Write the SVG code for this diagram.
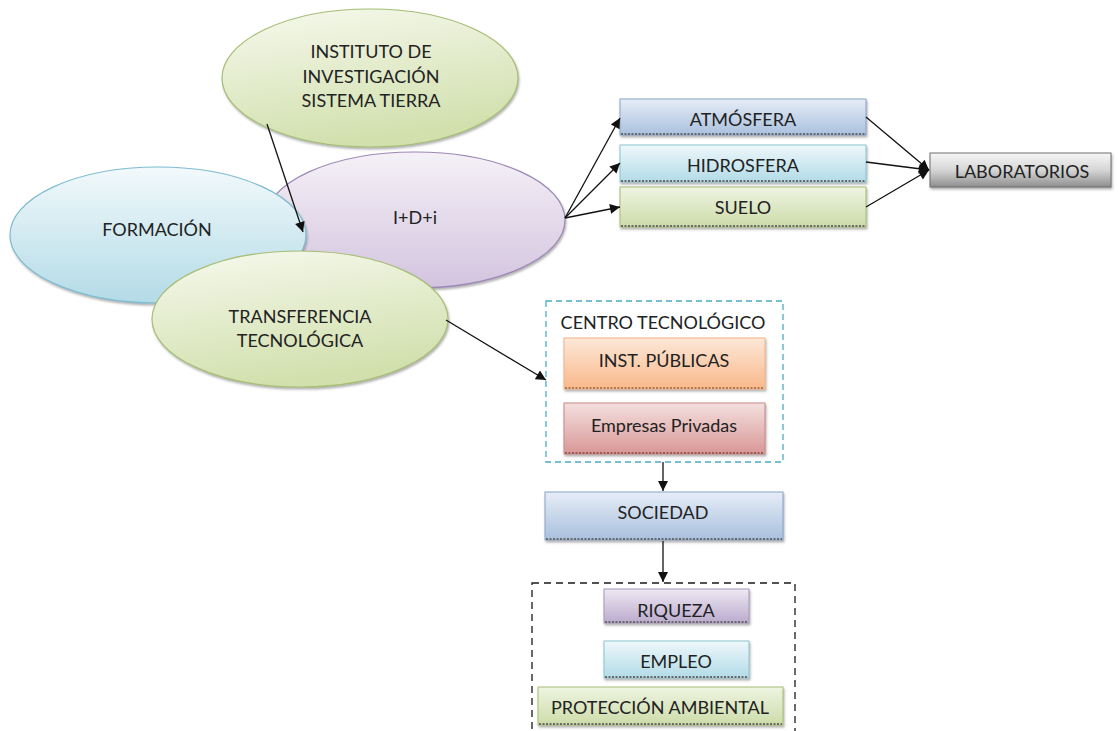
<svg xmlns="http://www.w3.org/2000/svg" width="1118" height="731" viewBox="0 0 1118 731">
<defs>
<linearGradient id="gGreen" x1="0" y1="0" x2="0.3" y2="1"><stop offset="0" stop-color="#f7f9ee"/><stop offset="1" stop-color="#d2e0ae"/></linearGradient>
<linearGradient id="gBlueE" x1="0" y1="0" x2="0" y2="1"><stop offset="0" stop-color="#f2f9fb"/><stop offset="1" stop-color="#b3dbe7"/></linearGradient>
<linearGradient id="gPurpleE" x1="0" y1="0" x2="0" y2="1"><stop offset="0" stop-color="#f5f1f7"/><stop offset="1" stop-color="#d3c4df"/></linearGradient>
<linearGradient id="gAtm" x1="0" y1="0" x2="0" y2="1"><stop offset="0" stop-color="#e6edf7"/><stop offset="1" stop-color="#a9c0de"/></linearGradient>
<linearGradient id="gHid" x1="0" y1="0" x2="0" y2="1"><stop offset="0" stop-color="#eef8fb"/><stop offset="1" stop-color="#b2dbe7"/></linearGradient>
<linearGradient id="gSue" x1="0" y1="0" x2="0" y2="1"><stop offset="0" stop-color="#eef4e2"/><stop offset="1" stop-color="#cddca9"/></linearGradient>
<linearGradient id="gLab" x1="0" y1="0" x2="0" y2="1"><stop offset="0" stop-color="#f6f6f6"/><stop offset="0.5" stop-color="#d6d6d6"/><stop offset="1" stop-color="#8e8e8e"/></linearGradient>
<linearGradient id="gOra" x1="0" y1="0" x2="0" y2="1"><stop offset="0" stop-color="#fde8d8"/><stop offset="1" stop-color="#f9b88a"/></linearGradient>
<linearGradient id="gRed" x1="0" y1="0" x2="0" y2="1"><stop offset="0" stop-color="#f4e0df"/><stop offset="1" stop-color="#d89795"/></linearGradient>
<linearGradient id="gPur" x1="0" y1="0" x2="0" y2="1"><stop offset="0" stop-color="#eee9f3"/><stop offset="1" stop-color="#baaacd"/></linearGradient>
<filter id="sh" x="-10%" y="-10%" width="120%" height="130%"><feDropShadow dx="1" dy="2" stdDeviation="1" flood-color="#555" flood-opacity="0.45"/></filter>
<marker id="arr" viewBox="0 0 10 10" refX="10" refY="5" markerWidth="12" markerHeight="10" markerUnits="userSpaceOnUse" orient="auto"><path d="M0,0 L10,5 L0,10 z" fill="#111"/></marker>
</defs>
<style>
text{font-family:Lato,"Open Sans","Liberation Sans",sans-serif;font-size:18px;fill:#222;text-anchor:middle}
.e{filter:url(#sh);stroke-width:1.2}
.b{filter:url(#sh);stroke-width:1}
.btm{stroke:#6a6a6a;stroke-width:2;stroke-dasharray:2 1.5}
.c{stroke:#111;stroke-width:1.3;fill:none;marker-end:url(#arr)}
</style>
<rect width="1118" height="731" fill="#ffffff"/>

<g id="idi">
<ellipse class="e" cx="415" cy="220" rx="150" ry="68" fill="url(#gPurpleE)" stroke="#9d89b6"/>
<text x="415" y="224">I+D+i</text>
</g>
<g id="formacion">
<ellipse class="e" cx="158" cy="235" rx="148" ry="68" fill="url(#gBlueE)" stroke="#7fbcd0"/>
<text x="157" y="236">FORMACIÓN</text>
</g>
<g id="transferencia">
<ellipse class="e" cx="300" cy="319" rx="148" ry="68" fill="url(#gGreen)" stroke="#a6be74"/>
<text x="300" y="323">TRANSFERENCIA</text>
<text x="300" y="347">TECNOLÓGICA</text>
</g>
<g id="instituto">
<ellipse class="e" cx="370" cy="78" rx="148" ry="69" fill="url(#gGreen)" stroke="#a6be74"/>
<text x="371" y="58">INSTITUTO DE</text>
<text x="371" y="83">INVESTIGACIÓN</text>
<text x="371" y="107">SISTEMA TIERRA</text>
</g>

<g id="atmosfera">
<rect class="b" x="620" y="99" width="246" height="36" fill="url(#gAtm)" stroke="#8aa3c8"/>
<line class="btm" x1="621" y1="134" x2="865" y2="134"/>
<text x="743" y="126">ATMÓSFERA</text>
</g>
<g id="hidrosfera">
<rect class="b" x="620" y="145" width="246" height="37" fill="url(#gHid)" stroke="#8cc4d4"/>
<line class="btm" x1="621" y1="181" x2="865" y2="181"/>
<text x="743" y="172">HIDROSFERA</text>
</g>
<g id="suelo">
<rect class="b" x="620" y="187" width="246" height="40" fill="url(#gSue)" stroke="#a6be74"/>
<line class="btm" x1="621" y1="226" x2="865" y2="226"/>
<text x="743" y="214">SUELO</text>
</g>
<g id="laboratorios">
<rect class="b" x="930" y="153" width="181" height="34" fill="url(#gLab)" stroke="#6f6f6f"/>
<text x="1022" y="178">LABORATORIOS</text>
</g>

<g id="centro">
<rect x="546" y="301" width="237" height="161" fill="none" stroke="#4bacc6" stroke-width="1.3" stroke-dasharray="6 4"/>
<text x="663" y="329">CENTRO TECNOLÓGICO</text>
</g>
<g id="publicas">
<rect class="b" x="564" y="338" width="201" height="51" fill="url(#gOra)" stroke="#f2b286"/>
<line class="btm" x1="565" y1="388" x2="764" y2="388" style="stroke:#b07a55"/>
<text x="664" y="367">INST. PÚBLICAS</text>
</g>
<g id="privadas">
<rect class="b" x="564" y="403" width="201" height="51" fill="url(#gRed)" stroke="#c98886"/>
<line class="btm" x1="565" y1="453" x2="764" y2="453" style="stroke:#9a5a58"/>
<text x="664" y="432">Empresas Privadas</text>
</g>
<g id="sociedad">
<rect class="b" x="545" y="492" width="238" height="48" fill="url(#gAtm)" stroke="#8aa3c8"/>
<line class="btm" x1="546" y1="539" x2="782" y2="539"/>
<text x="663" y="519">SOCIEDAD</text>
</g>
<g id="resultados">
<rect x="532" y="583" width="263" height="200" fill="none" stroke="#1a1a1a" stroke-width="1.3" stroke-dasharray="7 5"/>
</g>
<g id="riqueza">
<rect class="b" x="604" y="589" width="145" height="34" fill="url(#gPur)" stroke="#a896be"/>
<line class="btm" x1="605" y1="622" x2="748" y2="622"/>
<text x="676" y="617">RIQUEZA</text>
</g>
<g id="empleo">
<rect class="b" x="604" y="641" width="145" height="37" fill="url(#gHid)" stroke="#8cc4d4"/>
<line class="btm" x1="605" y1="677" x2="748" y2="677"/>
<text x="676" y="668">EMPLEO</text>
</g>
<g id="proteccion">
<rect class="b" x="538" y="687" width="245" height="38" fill="url(#gSue)" stroke="#a6be74"/>
<line class="btm" x1="539" y1="724" x2="782" y2="724"/>
<text x="660" y="714">PROTECCIÓN AMBIENTAL</text>
</g>

<g id="connectors">
<line class="c" x1="267" y1="124" x2="303" y2="232"/>
<line class="c" x1="565" y1="218" x2="620" y2="118"/>
<line class="c" x1="565" y1="218" x2="620" y2="163"/>
<line class="c" x1="565" y1="218" x2="620" y2="207"/>
<line class="c" x1="866" y1="117" x2="929" y2="170"/>
<line class="c" x1="866" y1="162" x2="929" y2="170"/>
<line class="c" x1="866" y1="207" x2="929" y2="170"/>
<line class="c" x1="446" y1="320" x2="546" y2="380"/>
<line class="c" x1="663" y1="462" x2="663" y2="491"/>
<line class="c" x1="663" y1="541" x2="663" y2="582"/>
</g>
</svg>
